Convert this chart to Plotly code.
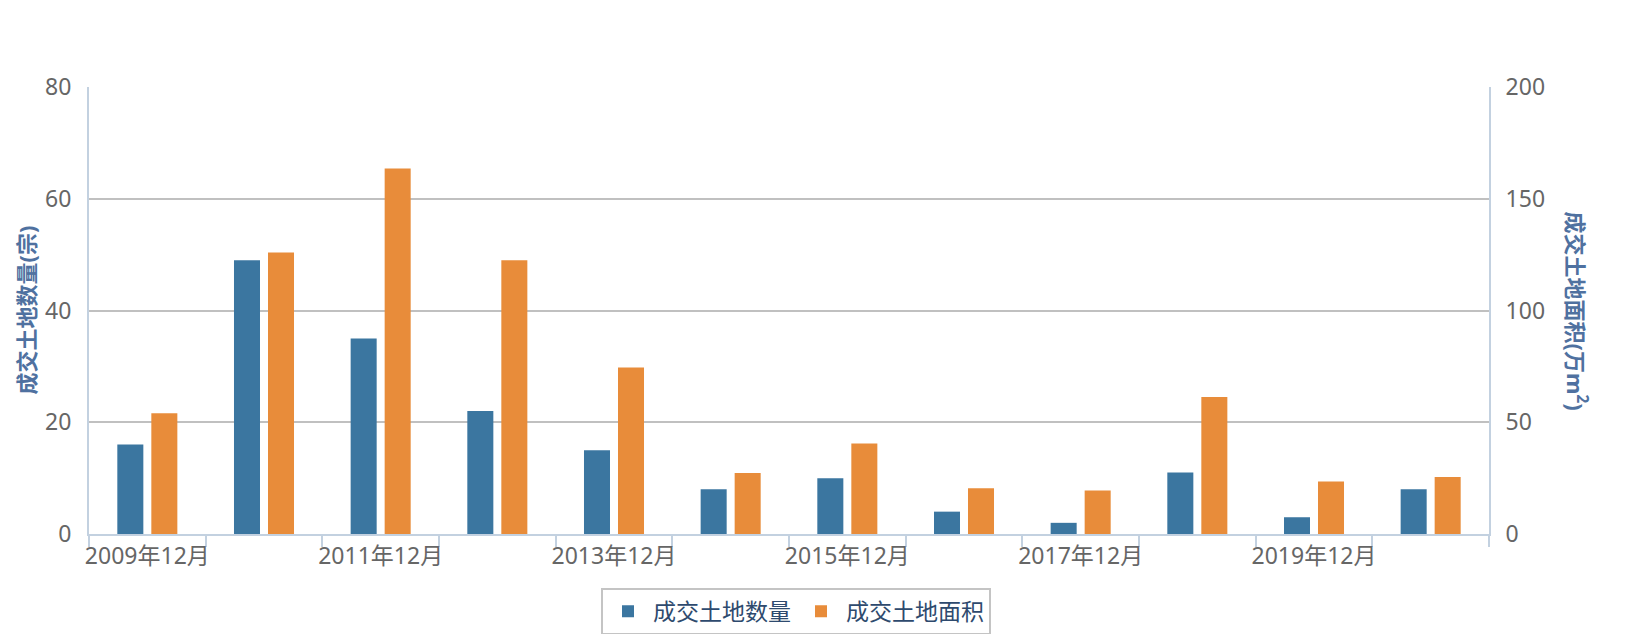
import plotly.graph_objects as go

# categories and values
months = ["2009年12月", "2010年12月", "2011年12月", "2012年12月", "2013年12月", "2014年12月",
          "2015年12月", "2016年12月", "2017年12月", "2018年12月", "2019年12月", "2020年12月"]
land_count = [16, 49, 35, 22, 15, 8, 10, 4, 2, 11, 3, 8]
land_area = [54, 126, 163.5, 122.5, 74.5, 27.3, 40.5, 20.5, 19.5, 61.3, 23.5, 25.5]
tick_text = [m if i % 2 == 0 else " " for i, m in enumerate(months)]

BLUE = "#3b76a0"
ORANGE = "#e88c3a"
AXIS = "#c3d1e0"
GRID = "#c0c0c0"
TITLE = "#4f71a0"
FONT = "Noto Sans, Noto Sans CJK SC, sans-serif"

fig = go.Figure()
fig.add_trace(go.Bar(x=months, y=land_count, name="成交土地数量", offsetgroup="a",
                     marker=dict(color=BLUE, line_width=0), yaxis="y"))
fig.add_trace(go.Bar(x=months, y=land_area, name="成交土地面积", offsetgroup="b",
                     marker=dict(color=ORANGE, line_width=0), yaxis="y2"))

# page body has an 8px margin, so the figure is a little smaller than the window
fig.update_layout(
    width=1618, height=626,
    margin=dict(l=81, r=137, t=79, b=100),
    paper_bgcolor="white", plot_bgcolor="white",
    font=dict(family=FONT, size=23, color="#666666"),
    barmode="group", bargap=0.417, bargroupgap=0.235,
    showlegend=True,
    legend=dict(orientation="h", x=0.505, xanchor="center",
                yref="container", y=0.074, yanchor="top",
                bordercolor="#c4c4c4", borderwidth=2, bgcolor="white",
                font=dict(size=23, color="#2e4a6e"), itemwidth=40),
    xaxis=dict(type="category", tickmode="array", tickvals=months, ticktext=tick_text,
               tickangle=0, tickson="boundaries", ticks="outside", ticklen=11,
               tickcolor=AXIS, tickwidth=2, automargin=False,
               showline=True, linecolor=AXIS, linewidth=2, mirror=False,
               showgrid=False, tickfont=dict(size=23, color="#666666")),
    yaxis=dict(range=[0, 80], dtick=20, showgrid=True, gridcolor=GRID, gridwidth=1.5,
               showline=True, linecolor=AXIS, linewidth=2, zeroline=False, ticks="",
               ticklabelstandoff=11, automargin=False,
               tickfont=dict(size=23, color="#666666")),
    yaxis2=dict(range=[0, 200], dtick=50, overlaying="y", side="right", showgrid=False,
                showline=True, linecolor=AXIS, linewidth=2, zeroline=False, ticks="",
                ticklabelstandoff=10, automargin=False,
                tickfont=dict(size=23, color="#666666")),
)

# axis titles as rotated annotations (the right one reads top-to-bottom)
fig.add_annotation(text="<b>成交土地数量(宗)</b>", xref="paper", yref="paper",
                   x=0.0, xshift=-64, y=0.5, xanchor="center", yanchor="middle",
                   textangle=-90, showarrow=False, font=dict(size=22, color=TITLE))
fig.add_annotation(text="<b>成交土地面积(万m<sup>2</sup>)</b>", xref="paper", yref="paper",
                   x=1.0, xshift=88, y=0.5, xanchor="center", yanchor="middle",
                   textangle=90, showarrow=False, font=dict(size=22, color=TITLE))

fig.write_html("out.html")
